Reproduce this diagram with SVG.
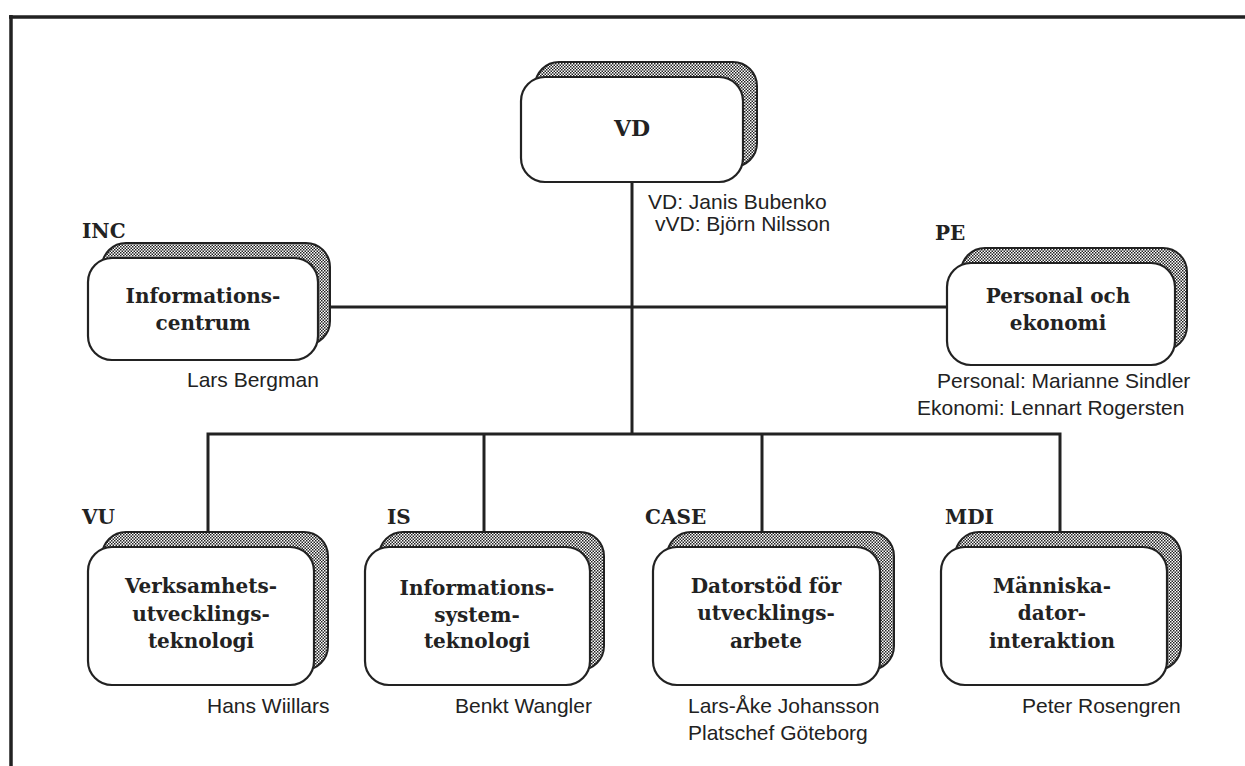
<svg xmlns="http://www.w3.org/2000/svg" width="1245" height="766" viewBox="0 0 1245 766">
<defs>
<pattern id="dither" width="3" height="3" patternUnits="userSpaceOnUse">
<rect width="3" height="3" fill="#ffffff"/>
<rect x="0" y="0" width="1.5" height="1.5" fill="#222"/>
<rect x="1.5" y="1.5" width="1.5" height="1.5" fill="#222"/>
</pattern>
</defs>
<style>
.frame{stroke:#222;stroke-width:3.5;fill:none}
.conn{stroke:#222;stroke-width:3;fill:none}
.shadow{fill:url(#dither);stroke:#222;stroke-width:2}
.box{fill:#fff;stroke:#222;stroke-width:2.2}
.nt{font-family:"DejaVu Serif","Liberation Serif",serif;font-weight:bold;font-size:20px;fill:#222;text-anchor:middle}
.cat{font-family:"DejaVu Serif","Liberation Serif",serif;font-weight:bold;font-size:20px;fill:#222}
.pn{font-family:"Liberation Sans",Arial,sans-serif;font-size:21px;fill:#222}
</style>
<rect width="1245" height="766" fill="#fff"/>
<path class="frame" d="M9 17 H1245 M11 15 V766"/>
<g id="connectors">
<path class="conn" d="M632 182 V434"/>
<path class="conn" d="M318 307 H947"/>
<path class="conn" d="M208 532 V434 H1060 V532"/>
<path class="conn" d="M484 434 V532"/>
<path class="conn" d="M762 434 V532"/>
</g>
<g id="VD">
<rect class="shadow" x="535" y="62" width="222" height="105" rx="24"/>
<rect class="box" x="521" y="77" width="222" height="105" rx="24"/>
<text class="nt" x="632" y="136" style="font-size:22px">VD</text>
<text class="pn" x="648" y="209">VD: Janis Bubenko</text>
<text class="pn" x="655" y="231">vVD: Björn Nilsson</text>
</g>
<g id="INC">
<text class="cat" x="82" y="238">INC</text>
<rect class="shadow" x="102" y="243" width="228" height="102" rx="24"/>
<rect class="box" x="88" y="258" width="230" height="102" rx="24"/>
<text class="nt" x="203" y="303">Informations-</text>
<text class="nt" x="203" y="330">centrum</text>
<text class="pn" x="187" y="387">Lars Bergman</text>
</g>
<g id="PE">
<text class="cat" x="935" y="240">PE</text>
<rect class="shadow" x="961" y="248" width="226" height="102" rx="24"/>
<rect class="box" x="947" y="263" width="228" height="102" rx="24"/>
<text class="nt" x="1058" y="303">Personal och</text>
<text class="nt" x="1058" y="330">ekonomi</text>
<text class="pn" x="937" y="388">Personal: Marianne Sindler</text>
<text class="pn" x="917" y="415">Ekonomi: Lennart Rogersten</text>
</g>
<g id="VU">
<text class="cat" x="82" y="524">VU</text>
<rect class="shadow" x="102" y="532" width="226" height="138" rx="24"/>
<rect class="box" x="88" y="547" width="226" height="138" rx="24"/>
<text class="nt" x="201" y="593">Verksamhets-</text>
<text class="nt" x="201" y="621">utvecklings-</text>
<text class="nt" x="201" y="648">teknologi</text>
<text class="pn" x="207" y="713">Hans Wiillars</text>
</g>
<g id="IS">
<text class="cat" x="387" y="524">IS</text>
<rect class="shadow" x="379" y="532" width="225" height="138" rx="24"/>
<rect class="box" x="365" y="547" width="225" height="138" rx="24"/>
<text class="nt" x="477" y="595">Informations-</text>
<text class="nt" x="477" y="622">system-</text>
<text class="nt" x="477" y="648">teknologi</text>
<text class="pn" x="455" y="713">Benkt Wangler</text>
</g>
<g id="CASE">
<text class="cat" x="645" y="524">CASE</text>
<rect class="shadow" x="667" y="532" width="227" height="138" rx="24"/>
<rect class="box" x="653" y="547" width="227" height="138" rx="24"/>
<text class="nt" x="766" y="593">Datorstöd  för</text>
<text class="nt" x="766" y="620">utvecklings-</text>
<text class="nt" x="766" y="648">arbete</text>
<text class="pn" x="688" y="713">Lars-Åke Johansson</text>
<text class="pn" x="688" y="740">Platschef Göteborg</text>
</g>
<g id="MDI">
<text class="cat" x="945" y="524">MDI</text>
<rect class="shadow" x="955" y="532" width="226" height="138" rx="24"/>
<rect class="box" x="941" y="547" width="226" height="138" rx="24"/>
<text class="nt" x="1052" y="593">Människa-</text>
<text class="nt" x="1052" y="620">dator-</text>
<text class="nt" x="1052" y="648">interaktion</text>
<text class="pn" x="1022" y="713">Peter Rosengren</text>
</g>
</svg>
